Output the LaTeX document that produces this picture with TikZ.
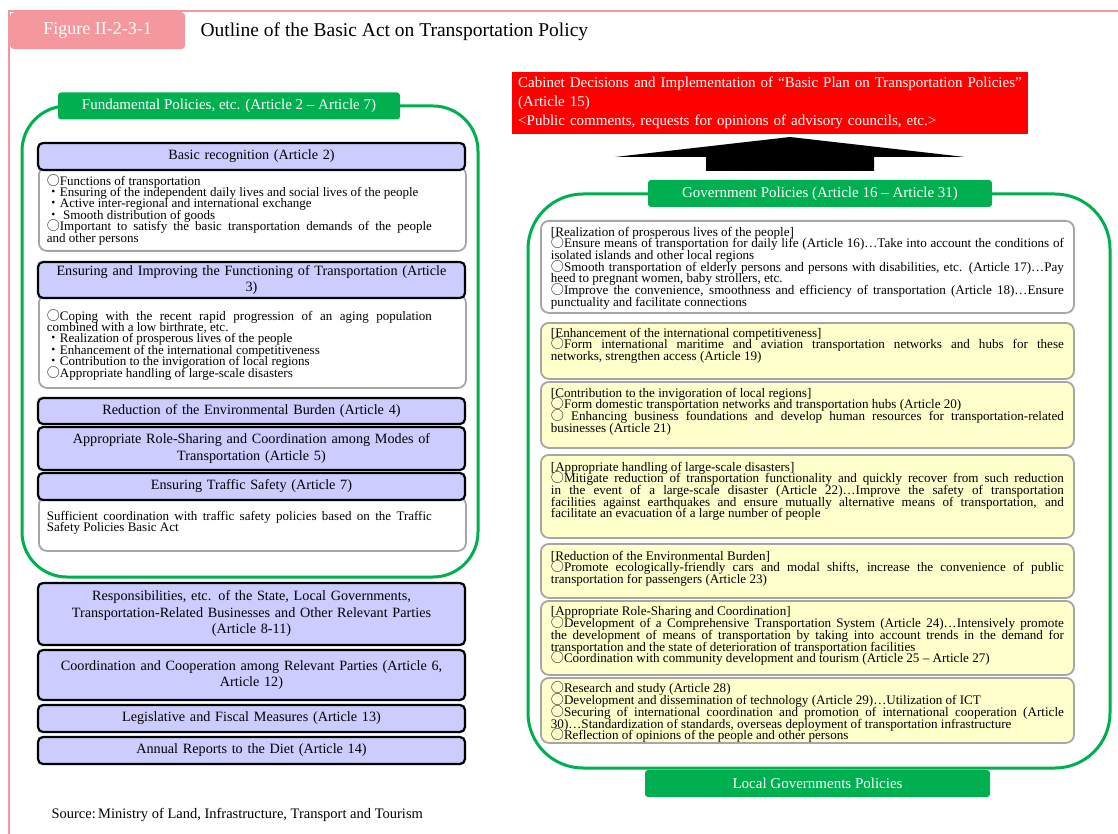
\documentclass[tikz,border=0pt]{standalone}
\usepackage{fontspec}
\setmainfont{Liberation Serif}
\newfontfamily\cjk{Noto Sans CJK JP}
\definecolor{ggreen}{RGB}{0,176,80}
\definecolor{lav}{RGB}{204,204,255}
\definecolor{ylw}{RGB}{255,255,204}
\definecolor{pnk}{RGB}{244,152,158}
\newcommand{\ci}{\smash{\cjk ○}}
\newcommand{\dt}{\smash{\cjk ・}}
\hyphenpenalty=10000
\exhyphenpenalty=10000
\tolerance=9999
\begin{document}
\begin{tikzpicture}[x=1pt,y=-1pt]
	\tikzstyle{head} = [draw, line width=2.2pt, fill=lav, rounded corners=5pt, minimum width=427pt, text width=417pt, align=center, inner sep=0pt, font=\fontsize{14.2}{16.5}\selectfont];
	\tikzstyle{wbox} = [draw=gray!70, line width=1.8pt, fill=white, rounded corners=8pt, anchor=north west, inner xsep=8pt, inner ysep=3pt];
	\tikzstyle{ybox} = [wbox, fill=ylw, inner xsep=10pt];
	\tikzstyle{glabel} = [fill=ggreen, text=white, rounded corners=3pt, minimum height=27pt, font=\fontsize{15}{17}\selectfont];
	\tikzstyle{frame} = [draw=ggreen, line width=3pt, rounded corners=45pt];
	\def\lt#1#2{\parbox[c][#1][t]{411pt}{\fontsize{13}{11.4}\selectfont\lineskiplimit=-50pt\lineskip=0pt\rightskip=26pt #2}}
	\def\rt#1#2{\parbox[c][#1][t]{513pt}{\fontsize{13.1}{11.7}\selectfont\lineskiplimit=-50pt\lineskip=0pt #2}}
	\useasboundingbox (0,0) rectangle (1118,834);
	\fill[white] (0,0) rectangle (1118,834);
	\draw[pnk, line width=2pt] (1118,11) -- (9,11) -- (9,834);
	\node[fill=pnk, rounded corners=4pt, minimum width=175pt, minimum height=37pt, anchor=north west, text=white, font=\fontsize{18}{20}\selectfont] (fig) at (10,12) {Figure II-2-3-1};
	\node[anchor=west, font=\fontsize{19.5}{22}\selectfont] (title) at (197,32) {Outline of the Basic Act on Transportation Policy};

	\node[frame, minimum width=456pt, minimum height=471pt] (fundframe) at (250,341.5) {};
	\node[glabel, minimum width=342pt] (fund) at (229,106) {Fundamental Policies, etc. (Article 2 -- Article 7)};

	\node[wbox] (basictxt) at (38,166) {\lt{78pt}{\vspace*{6pt}\ci Functions of transportation\\
		\dt Ensuring of the independent daily lives and social lives of the people\\
		\dt Active inter-regional and international exchange\\
		\dt\ Smooth distribution of goods\\
		\ci Important to satisfy the basic transportation demands of the people\linebreak and other persons}};
	\node[head, minimum height=27pt] (basic) at (251.5,156.5) {Basic recognition (Article 2)};

	\node[wbox] (functxt) at (38,294) {\lt{87pt}{\vspace*{13pt}\ci Coping with the recent rapid progression of an aging population combined with a low birthrate, etc.\\
		\dt Realization of prosperous lives of the people\\
		\dt Enhancement of the international competitiveness\\
		\dt Contribution to the invigoration of local regions\\
		\ci Appropriate handling of large-scale disasters}};
	\node[head, minimum height=36pt] (func) at (251.5,280) {Ensuring and Improving the Functioning of Transportation (Article\\ 3)};

	\node[wbox] (safetxt) at (38,496) {\lt{48pt}{\vspace*{11pt}Sufficient coordination with traffic safety policies based on the Traffic Safety Policies Basic Act}};
	\foreach \nm/\yc/\hh/\txt in {env/411/26/{Reduction of the Environmental Burden (Article 4)},
		role/448.5/43/{Appropriate Role-Sharing and Coordination among Modes of\\ Transportation (Article 5)},
		safe/486.5/27/{Ensuring Traffic Safety (Article 7)},
		resp/614/62/{Responsibilities, etc. of the State, Local Governments,\\ Transportation-Related Businesses and Other Relevant Parties\\ (Article 8-11)},
		coord/675/50/{Coordination and Cooperation among Relevant Parties (Article 6,\\ Article 12)},
		legis/718.5/27/{Legislative and Fiscal Measures (Article 13)},
		annual/750.5/27/{Annual Reports to the Diet (Article 14)}}
	{
		\node[head, minimum height=\hh pt] (\nm) at (251.5,\yc) {\txt};
	}
	\node[anchor=west, font=\fontsize{14.5}{16}\selectfont] (src) at (48,815) {Source:\,Ministry of Land, Infrastructure, Transport and Tourism};

	\node[fill=red, anchor=north west, minimum width=516pt, minimum height=62pt, text width=504pt, inner xsep=6pt, align=left, text=white, font=\fontsize{15}{19}\selectfont] (cab) at (512,72) {Cabinet Decisions and Implementation of “Basic Plan on Transportation Policies”\\ (Article 15)\\ <Public comments, requests for opinions of advisory councils, etc.>};
	\fill[black] (615,157) -- (790,137) -- (965,157) -- (874,157) -- (874,171) -- (706,171) -- (706,157) -- cycle;

	\node[frame, rounded corners=55pt, minimum width=582pt, minimum height=574pt] (govframe) at (819,481) {};
	\node[glabel, minimum width=344pt] (gov) at (820,193.5) {Government Policies (Article 16 -- Article 31)};

	\node[ybox, fill=white] (r1) at (540,220) {\rt{86pt}{\vspace*{3pt}[Realization of prosperous lives of the people]\\
		\ci Ensure means of transportation for daily life (Article 16)…Take into account the conditions of isolated islands and other local regions\\
		\ci Smooth transportation of elderly persons and persons with disabilities, etc. (Article 17)…Pay heed to pregnant women, baby strollers, etc.\\
		\ci Improve the convenience, smoothness and efficiency of transportation (Article 18)…Ensure punctuality and facilitate connections}};
	\node[ybox] (r2) at (540,322) {\rt{50pt}{\vspace*{2pt}[Enhancement of the international competitiveness]\\
		\ci Form international maritime and aviation transportation networks and hubs for these\linebreak networks, strengthen access (Article 19)}};
	\node[ybox] (r3) at (540,381) {\rt{60pt}{\vspace*{3pt}[Contribution to the invigoration of local regions]\\
		\ci Form domestic transportation networks and transportation hubs (Article 20)\\
		\ci\ Enhancing business foundations and develop human resources for transportation-related businesses (Article 21)}};
	\node[ybox] (r4) at (540,454) {\rt{77pt}{\vspace*{4pt}[Appropriate handling of large-scale disasters]\\
		\ci Mitigate reduction of transportation functionality and quickly recover from such reduction\linebreak in the event of a large-scale disaster (Article 22)…Improve the safety of transportation\linebreak facilities against earthquakes and ensure mutually alternative means of transportation, and\linebreak facilitate an evacuation of a large number of people}};
	\node[ybox] (r5) at (540,543) {\rt{48pt}{\vspace*{4pt}[Reduction of the Environmental Burden]\\
		\ci Promote ecologically-friendly cars and modal shifts, increase the convenience of public transportation for passengers (Article 23)}};
	\node[ybox] (r6) at (540,600) {\rt{68pt}{\vspace*{3pt}[Appropriate Role-Sharing and Coordination]\\
		\ci Development of a Comprehensive Transportation System (Article 24)…Intensively promote the development of means of transportation by taking into account trends in the demand for transportation and the state of deterioration of transportation facilities\\
		\ci Coordination with community development and tourism (Article 25 -- Article 27)}};
	\node[ybox] (r7) at (540,677) {\rt{59pt}{\vspace*{3pt}\ci Research and study (Article 28)\\
		\ci Development and dissemination of technology (Article 29)…Utilization of ICT\\
		\ci Securing of international coordination and promotion of international cooperation (Article 30)…Standardization of standards, overseas deployment of transportation infrastructure\\
		\ci Reflection of opinions of the people and other persons}};

	\node[glabel, minimum width=345pt] (local) at (817.5,783.5) {Local Governments Policies};
\end{tikzpicture}
\end{document}
